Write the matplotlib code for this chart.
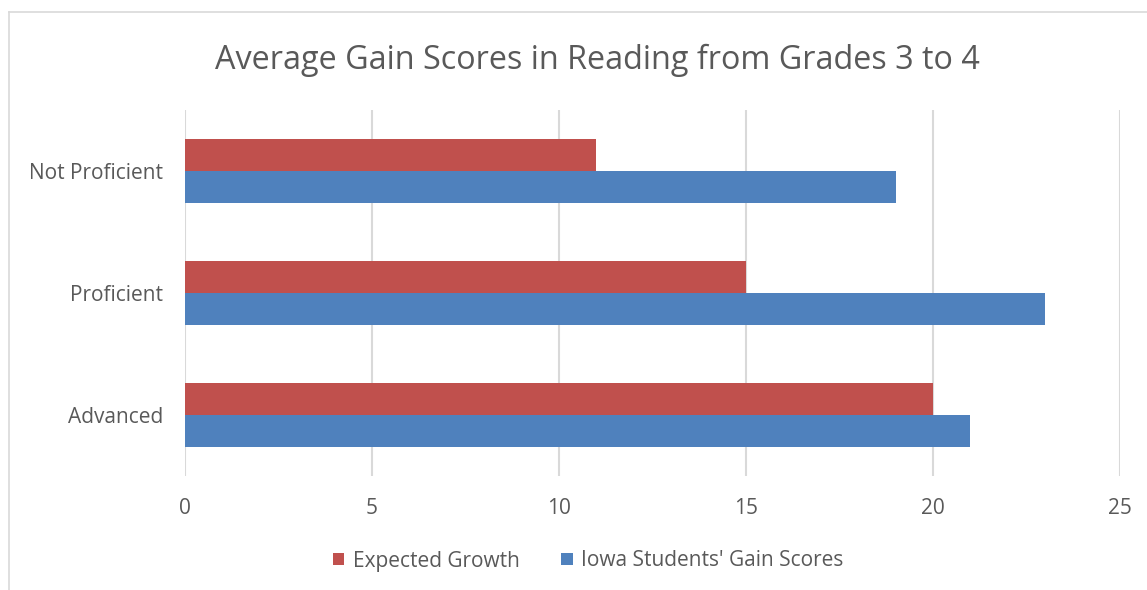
import matplotlib
matplotlib.use("Agg")
import matplotlib.pyplot as plt
import numpy as np
from matplotlib.lines import Line2D

categories = ["Not Proficient", "Proficient", "Advanced"]
expected_growth = [11, 15, 20]
iowa_gain = [19, 23, 21]
series_names = ["Expected Growth", "Iowa Students' Gain Scores"]
x_ticks = [0, 5, 10, 15, 20, 25]

RED = "#C0504D"
BLUE = "#4F81BD"
TXT = "#595959"
GRID = "#D9D9D9"

plt.rcParams['font.family'] = ['Open Sans', 'DejaVu Sans']

fig = plt.figure(figsize=(11.47, 5.9), dpi=100)
W, H = 1147, 590
ax = fig.add_axes([185 / W, 1 - 476 / H, (1120 - 185) / W, (476 - 110) / H])

y = np.arange(len(categories))
h = 0.262
ax.barh(y - h / 2, expected_growth, height=h, color=RED, label=series_names[0], zorder=3)
ax.barh(y + h / 2, iowa_gain, height=h, color=BLUE, label=series_names[1], zorder=3)

ax.set_ylim(len(categories) - 0.5, -0.5)
ax.set_xlim(0, 25)
ax.set_xticks(x_ticks)
ax.set_yticks(y)
ax.set_yticklabels(categories)
ax.grid(axis='x', color=GRID, linewidth=1.5, zorder=0)
for s in ax.spines.values():
    s.set_visible(False)
ax.tick_params(axis='both', length=0, colors=TXT, labelsize=15)
ax.tick_params(axis='x', pad=16)
ax.tick_params(axis='y', pad=16)

fig.text(597 / W, 1 - 60 / H, "Average Gain Scores in Reading from Grades 3 to 4",
         ha='center', va='center', fontsize=23.3, color=TXT)

leg = fig.legend(loc='center', bbox_to_anchor=(588 / W, 1 - 561 / H), ncol=2,
                 frameon=False, fontsize=15, labelcolor=TXT,
                 handlelength=0.55, handleheight=0.55, handletextpad=0.4, columnspacing=2.0)

fig.add_artist(Line2D([8.5 / W, 8.5 / W], [0, 1 - 11.5 / H], transform=fig.transFigure, color=GRID, lw=1.2))
fig.add_artist(Line2D([8.5 / W, 1], [1 - 11.5 / H, 1 - 11.5 / H], transform=fig.transFigure, color=GRID, lw=1.2))

fig.savefig("out.png", dpi=100, facecolor='white')
